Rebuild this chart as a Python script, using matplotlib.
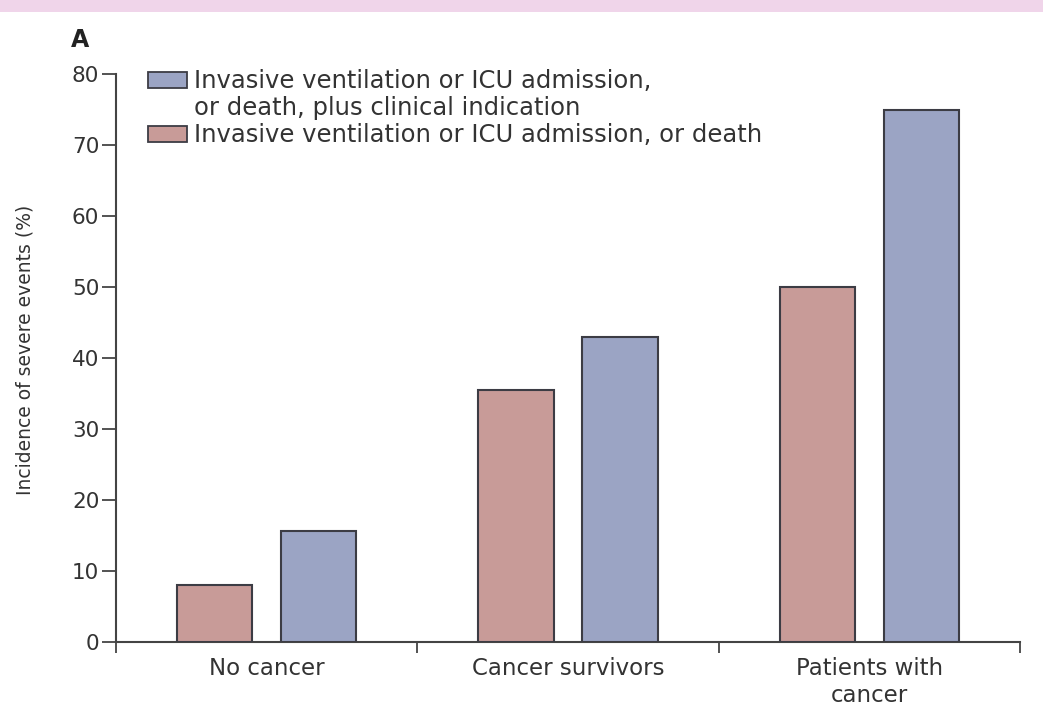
import numpy as np
import matplotlib
matplotlib.use("Agg")
import matplotlib.pyplot as plt
from matplotlib.patches import Patch, Rectangle

categories = ["No cancer", "Cancer survivors", "Patients with\ncancer"]
death_only = [8.0, 35.5, 50.0]          # invasive ventilation or ICU admission, or death
with_indication = [15.7, 42.9, 75.0]    # ... plus clinical indication
yticks = [0, 10, 20, 30, 40, 50, 60, 70, 80]

red = "#c89b98"
blue = "#9ba4c4"
edge = "#3c3c44"
txt = "#333333"

fig = plt.figure(figsize=(10.43, 7.08), dpi=100)
fig.patches.append(Rectangle((0, 1 - 12 / 708), 1, 12 / 708, transform=fig.transFigure,
                             facecolor="#f0d5ea", edgecolor="none"))

ax = fig.add_axes([116 / 1043, 1 - 642 / 708, (1020 - 116) / 1043, (642 - 74) / 708])

x = np.arange(len(categories))
w = 0.25
off = 0.173
ax.bar(x - off, death_only, w, color=red, edgecolor=edge, linewidth=1.5, zorder=3)
ax.bar(x + off, with_indication, w, color=blue, edgecolor=edge, linewidth=1.5, zorder=3)

ax.set_xlim(-0.5, 2.5)
ax.set_ylim(0, 80)
ax.set_yticks(yticks)
ax.tick_params(axis="y", direction="out", length=10, width=1.3, color="#444444",
               labelsize=15.5, labelcolor=txt, pad=2)

# boundary ticks as major, category labels as minor
ax.set_xticks([-0.5, 0.5, 1.5, 2.5])
ax.set_xticklabels([])
ax.set_xticks(x, minor=True)
ax.set_xticklabels(categories, minor=True)
ax.tick_params(axis="x", which="major", direction="out", length=8, width=1.3, color="#444444")
ax.tick_params(axis="x", which="minor", length=0, pad=11, labelsize=16.5, labelcolor=txt)

for s in ["top", "right"]:
    ax.spines[s].set_visible(False)
for s in ["left", "bottom"]:
    ax.spines[s].set_color("#444444")
    ax.spines[s].set_linewidth(1.5)

fig.text(25 / 1043, 1 - 350 / 708, "Incidence of severe events (%)", rotation=90,
         ha="center", va="center", fontsize=13.5, color=txt)

fig.text(71 / 1043, 1 - 47 / 708, "A", fontsize=17, fontweight="bold", color="#222222",
         ha="left", va="baseline")

handles = [Patch(facecolor=blue, edgecolor=edge, linewidth=1.3),
           Patch(facecolor="none", edgecolor="none"),
           Patch(facecolor=red, edgecolor=edge, linewidth=1.3)]
labels = ["Invasive ventilation or ICU admission,",
          "or death, plus clinical indication",
          "Invasive ventilation or ICU admission, or death"]
ax.legend(handles, labels, loc="upper left", bbox_to_anchor=(0.035, 1.008),
          frameon=False, borderaxespad=0, borderpad=0, handlelength=1.6,
          handleheight=0.65, handletextpad=0.3, labelspacing=0.12,
          prop={"size": 17.5}, labelcolor=txt)

fig.savefig("out.png", dpi=100)
